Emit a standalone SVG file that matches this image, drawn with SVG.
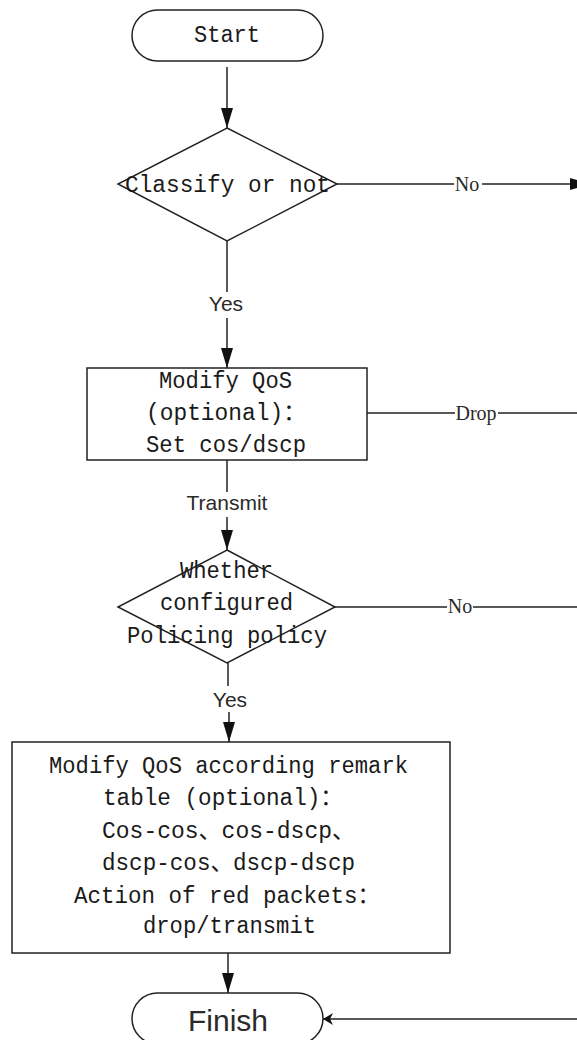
<svg xmlns="http://www.w3.org/2000/svg" width="577" height="1040" viewBox="0 0 577 1040">
<style>
.shape{fill:#fff;stroke:#222;stroke-width:1.5}
.conn{fill:none;stroke:#222;stroke-width:1.5}
.mono{font-family:"Liberation Mono","Noto Sans CJK SC",monospace;font-size:23px;fill:#1a1a1a}
.sans{font-family:"Liberation Sans",Arial,sans-serif;font-size:21px;fill:#2a2a2a;text-anchor:middle}
.serif{font-family:"Liberation Serif","Times New Roman",serif;font-size:20px;fill:#2a2a2a;text-anchor:middle}
</style>
<defs>
<marker id="arr" markerUnits="userSpaceOnUse" viewBox="0 0 20 12" markerWidth="20" markerHeight="12" refX="20" refY="6" orient="auto">
<path d="M0,0 L20,6 L0,12 z" fill="#111"/>
</marker>
<marker id="arrS" markerUnits="userSpaceOnUse" viewBox="0 0 10 12" markerWidth="10" markerHeight="12" refX="10" refY="6" orient="auto">
<path d="M0,0 L10,6 L0,12 L3,6 z" fill="#111"/>
</marker>
</defs>
<rect width="577" height="1040" fill="#fff"/>
<g id="connectors">
<path class="conn" d="M227,67 L227,128" marker-end="url(#arr)"/>
<path class="conn" d="M337,184 L454,184"/>
<path class="conn" d="M482,184 L590,184" marker-end="url(#arr)"/>
<text class="serif" x="467" y="191">No</text>
<path class="conn" d="M227,241 L227,292"/>
<path class="conn" d="M227,318 L227,368" marker-end="url(#arr)"/>
<text class="sans" x="226" y="311">Yes</text>
<path class="conn" d="M367,413 L455,413"/>
<path class="conn" d="M498,413 L577,413"/>
<text class="serif" x="476" y="420">Drop</text>
<path class="conn" d="M227,460 L227,492"/>
<path class="conn" d="M227,517 L227,550" marker-end="url(#arr)"/>
<text class="sans" x="227" y="510">Transmit</text>
<path class="conn" d="M335,607 L447,607"/>
<path class="conn" d="M473,607 L577,607"/>
<text class="serif" x="460" y="613">No</text>
<path class="conn" d="M228,663 L228,686"/>
<path class="conn" d="M229,712 L229,742" marker-end="url(#arr)"/>
<text class="sans" x="230" y="707">Yes</text>
<path class="conn" d="M228,953 L228,993" marker-end="url(#arr)"/>
<path class="conn" d="M577,1019 L323,1019" marker-end="url(#arrS)"/>
</g>
<g id="start">
<rect class="shape" x="132" y="10" width="191" height="51" rx="25.5"/>
<text class="mono" x="194" y="42" textLength="66" lengthAdjust="spacingAndGlyphs">Start</text>
</g>
<g id="classify">
<polygon class="shape" points="227,128 337,184 227,241 118,184"/>
<text class="mono" x="125" y="192" textLength="205" lengthAdjust="spacingAndGlyphs">Classify or not</text>
</g>
<g id="modify-qos">
<rect class="shape" x="87" y="368" width="280" height="92"/>
<text class="mono" x="159" y="388" textLength="133" lengthAdjust="spacingAndGlyphs">Modify QoS</text>
<text class="mono" x="146" y="420" textLength="160" lengthAdjust="spacingAndGlyphs">(optional)：</text>
<text class="mono" x="146" y="452" textLength="160" lengthAdjust="spacingAndGlyphs">Set cos/dscp</text>
</g>
<g id="policing">
<polygon class="shape" points="227,550 335,607 227,663 118,607"/>
<text class="mono" x="180" y="578" textLength="93" lengthAdjust="spacingAndGlyphs">Whether</text>
<text class="mono" x="160" y="610" textLength="133" lengthAdjust="spacingAndGlyphs">configured</text>
<text class="mono" x="127" y="643" textLength="200" lengthAdjust="spacingAndGlyphs">Policing policy</text>
</g>
<g id="remark">
<rect class="shape" x="12" y="742" width="438" height="211"/>
<text class="mono" x="49" y="773" textLength="359" lengthAdjust="spacingAndGlyphs">Modify QoS according remark</text>
<text class="mono" x="103" y="805" textLength="240" lengthAdjust="spacingAndGlyphs">table (optional)：</text>
<text class="mono" x="102" y="838" textLength="253" lengthAdjust="spacingAndGlyphs">Cos-cos、cos-dscp、</text>
<text class="mono" x="102" y="870" textLength="253" lengthAdjust="spacingAndGlyphs">dscp-cos、dscp-dscp</text>
<text class="mono" x="74" y="903" textLength="306" lengthAdjust="spacingAndGlyphs">Action of red packets：</text>
<text class="mono" x="143" y="933" textLength="173" lengthAdjust="spacingAndGlyphs">drop/transmit</text>
</g>
<g id="finish">
<rect class="shape" x="132" y="993" width="191" height="51" rx="25.5"/>
<text class="sans" x="228" y="1031" style="font-size:30px">Finish</text>
</g>
</svg>
